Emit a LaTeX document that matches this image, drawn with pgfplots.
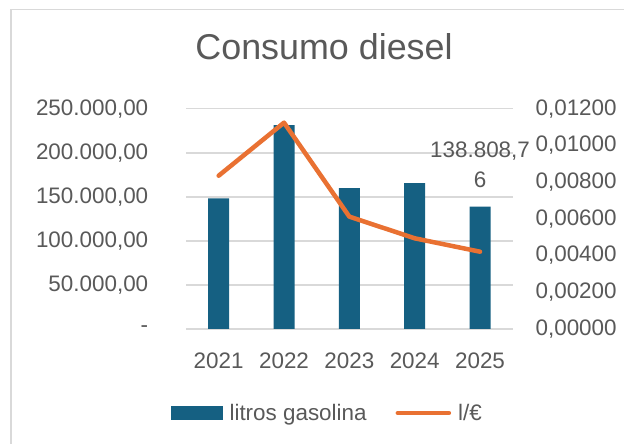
\documentclass[border=0pt]{standalone}
\usepackage{pgfplots}
\pgfplotsset{compat=1.18}
\usepackage{fontspec}
\setmainfont{Liberation Sans}
\definecolor{barblue}{HTML}{156082}
\definecolor{lineorange}{HTML}{E97132}
\definecolor{txtgray}{HTML}{595959}
\definecolor{gridgray}{HTML}{D9D9D9}

\begin{document}
\begin{tikzpicture}[x=1bp,y=1bp]
\useasboundingbox (0,0) rectangle (624,444);
\fill[white] (0,0) rectangle (624,444);
% chart frame (cropped on the right and bottom)
\draw[gridgray, line width=1.5bp] (11,-20) -- (11,434.5) -- (650,434.5);

\pgfplotsset{
  common/.style={
    at={(186bp,115bp)}, anchor=south west,
    scale only axis, width=326.7bp, height=220.3bp,
    xmin=-0.5, xmax=4.5,
    axis line style={draw=none},
    major tick length=0pt,
    tick label style={font=\fontsize{22.5}{26}\selectfont, text=txtgray},
    /pgf/number format/assume math mode=true,
    scaled y ticks=false,
  }
}

\begin{axis}[common,
  ymin=0, ymax=250000,
  ytick={0,50000,100000,150000,200000,250000},
  yticklabels={{-\hspace{10bp}},{50.000,00},{100.000,00},{150.000,00},{200.000,00},{250.000,00}},
  yticklabel style={anchor=east, inner sep=0pt, xshift=-37.6bp},
  xtick={0,1,2,3,4}, xticklabels={2021,2022,2023,2024,2025},
  xticklabel style={anchor=north, inner sep=0pt, yshift=-23.5bp},
  ymajorgrids, grid style={gridgray, line width=1.5bp},
  title={Consumo diesel},
  title style={at={(axis description cs:0.4225,1.253)}, anchor=center,
    font=\fontsize{36}{40}\selectfont, text=txtgray},
]
\addplot[ybar, bar width=21bp, fill=barblue, draw=none] coordinates {
  (0,148260) (1,231470) (2,159985) (3,165660) (4,138808.76)
};
\addplot[draw=none, mark=none, nodes near coords={138.808,7\\6},
  nodes near coords style={align=center, anchor=south, inner sep=0pt, yshift=18.7bp,
    font=\fontsize{22.5}{30}\selectfont, text=txtgray}]
  coordinates {(4,138808.76)};
\end{axis}

\begin{axis}[common,
  ymin=0, ymax=0.012,
  axis y line*=right, axis x line=none,
  ytick={0,0.002,0.004,0.006,0.008,0.01,0.012},
  yticklabels={{0,00000},{0,00200},{0,00400},{0,00600},{0,00800},{0,01000},{0,01200}},
  yticklabel style={anchor=west, inner sep=0pt, xshift=22.7bp},
  legend columns=2,
  legend style={at={(axis description cs:0.433,-0.381)}, anchor=center,
    draw=none, fill=none, inner sep=0pt,
    font=\fontsize{22.5}{26}\selectfont, text=txtgray,
    /tikz/every odd column/.append style={column sep=5bp},
    /tikz/every even column/.append style={column sep=27bp}},
  legend cell align=left,
]
\addlegendimage{legend image code/.code={\fill[barblue] (0bp,-6.5bp) rectangle (51bp,6.5bp);}}
\addlegendentry{litros gasolina}
\addplot[lineorange, line width=4.5bp, line join=round, line cap=round, mark=none,
  legend image code/.code={\draw[lineorange, line width=4.5bp, line cap=round] (2bp,0bp) -- (53bp,0bp);}]
  coordinates {(0,0.00835) (1,0.01124) (2,0.00612) (3,0.00494) (4,0.00421)};
\addlegendentry{l/€}
\end{axis}
\end{tikzpicture}
\end{document}
